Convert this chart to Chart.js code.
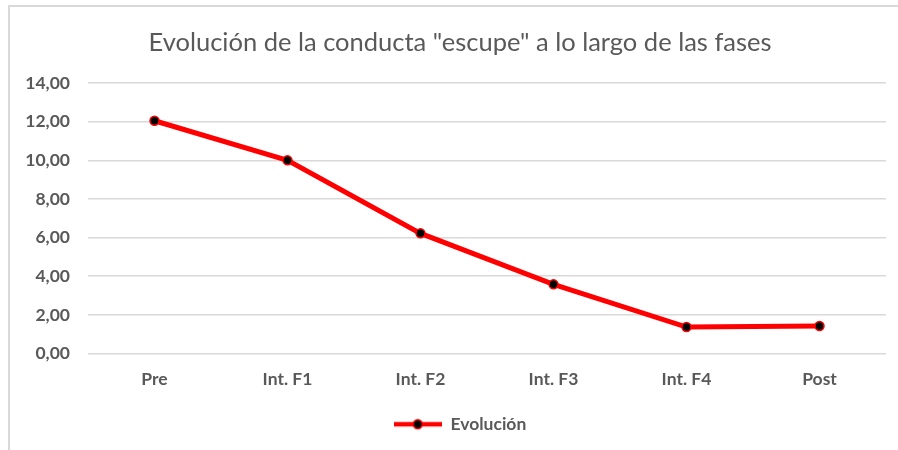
<!DOCTYPE html>
<html>
<head>
<meta charset="utf-8">
<script src="https://cdn.jsdelivr.net/npm/chart.js@4/dist/chart.umd.min.js"></script>
<style>
  html, body { margin: 0; padding: 0; background: #ffffff; }
  #wrap { position: relative; width: 898px; height: 450px; }
  #frame { position: absolute; left: 8px; top: 5px; right: 0; bottom: 0;
           border-left: 2px solid #d9d9d9; border-top: 2px solid #d9d9d9; pointer-events: none; }
  canvas { position: absolute; left: 0; top: 0; }
</style>
</head>
<body>
<div id="wrap">
  <canvas id="c" width="898" height="450"></canvas>
  <div id="frame"></div>
</div>
<script>
const titleText = 'Evolución de la conducta "escupe" a lo largo de las fases';
const categories = ['Pre', 'Int. F1', 'Int. F2', 'Int. F3', 'Int. F4', 'Post'];
const seriesName = 'Evolución';
const seriesValues = [12.05, 10.0, 6.22, 3.58, 1.37, 1.42];
const yTicks = [0, 2, 4, 6, 8, 10, 12, 14];

const RED = '#ff0000';
const GRAY_TEXT = '#595959';
const FONT = 'Lato, Carlito, "Open Sans", sans-serif';

// legend symbol: line with marker
function legendSymbol() {
  const cv = document.createElement('canvas');
  cv.width = 48; cv.height = 12;
  const g = cv.getContext('2d');
  g.strokeStyle = RED; g.lineWidth = 4.5;
  g.beginPath(); g.moveTo(0, 6); g.lineTo(48, 6); g.stroke();
  g.beginPath(); g.arc(24, 6, 4.5, 0, Math.PI * 2);
  g.fillStyle = '#000'; g.fill();
  g.lineWidth = 1.5; g.strokeStyle = RED; g.stroke();
  return cv;
}
const sym = legendSymbol();

// shift title and legend centring to match the reference framing
const centreShift = {
  id: 'centreShift',
  afterLayout(chart) {
    if (chart.titleBlock) chart.titleBlock.left = 34;
    if (chart.legend) chart.legend.left = 34;
  }
};

new Chart(document.getElementById('c'), {
  type: 'line',
  data: {
    labels: categories,
    datasets: [{
      label: seriesName,
      data: seriesValues,
      borderColor: RED,
      backgroundColor: RED,
      borderWidth: 5,
      tension: 0,
      pointRadius: 4.5,
      pointBackgroundColor: '#000000',
      pointBorderColor: RED,
      pointBorderWidth: 1.5,
      pointStyle: 'circle'
    }]
  },
  plugins: [centreShift],
  options: {
    responsive: false,
    animation: false,
    layout: { padding: { left: 10, right: 12, top: 0, bottom: 7 } },
    plugins: {
      title: {
        display: true,
        text: titleText,
        color: GRAY_TEXT,
        font: { family: FONT, size: 25.5, weight: 'normal' },
        padding: { top: 27.5, bottom: 25 }
      },
      legend: {
        display: true,
        position: 'bottom',
        labels: {
          color: GRAY_TEXT,
          font: { family: FONT, size: 17.5, weight: 'bold' },
          usePointStyle: true,
          pointStyleWidth: 48,
          boxHeight: 12,
          padding: 10,
          generateLabels: (chart) => [{
            text: seriesName,
            pointStyle: sym,
            fillStyle: RED,
            strokeStyle: RED,
            lineWidth: 0,
            fontColor: GRAY_TEXT,
            datasetIndex: 0,
            hidden: false
          }]
        }
      },
      tooltip: { enabled: false }
    },
    scales: {
      x: {
        offset: true,
        grid: { display: false, drawTicks: false },
        border: { display: false },
        ticks: {
          color: GRAY_TEXT,
          font: { family: FONT, size: 17.5, weight: 'bold' },
          padding: 15.5,
          maxRotation: 0
        }
      },
      y: {
        min: 0,
        max: 14,
        afterBuildTicks: (s) => { s.ticks = yTicks.map(v => ({ value: v })); },
        afterFit: (s) => { s.width = 78; },
        grid: { color: '#d9d9d9', lineWidth: 1.5, drawTicks: false },
        border: { display: false },
        ticks: {
          color: GRAY_TEXT,
          font: { family: FONT, size: 17.5, weight: 'bold' },
          padding: 18,
          callback: (v) => Number(v).toFixed(2).replace('.', ',')
        }
      }
    }
  }
});
</script>
</body>
</html>
